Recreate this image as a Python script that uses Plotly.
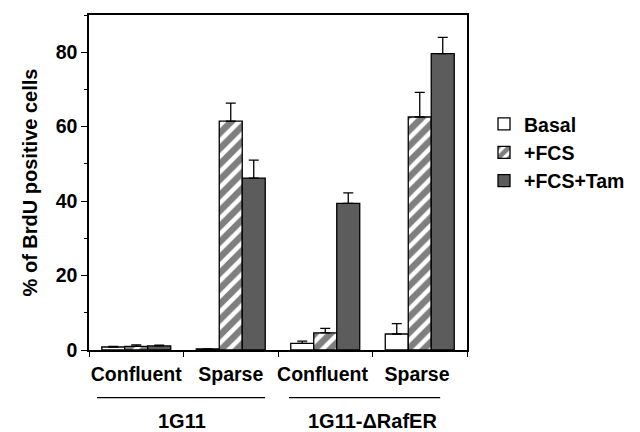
import plotly.graph_objects as go

categories = ["Confluent", "Sparse", "Confluent ", "Sparse "]
series_names = ["Basal", "+FCS", "+FCS+Tam"]
basal = [0.8, 0.3, 1.8, 4.3]
basal_err = [0.2, 0.0, 0.6, 2.8]
fcs = [1.0, 61.5, 4.6, 62.6]
fcs_err = [0.4, 4.8, 1.2, 6.6]
tam = [1.1, 46.2, 39.4, 79.6]
tam_err = [0.2, 4.8, 2.8, 4.4]
y_ticks = [0, 20, 40, 60, 80]
group_labels = ["1G11", "1G11-\u0394RafER"]

FONT = "Liberation Sans, Arial, Helvetica, sans-serif"

fig = go.Figure()
styles = [
    dict(color="white", pattern=None),
    dict(color="white", pattern=dict(shape="/", fgcolor="black", bgcolor="white", size=11, solidity=0.6)),
    dict(color="#5c5c5c", pattern=None),
]
for name, vals, errs, st in zip(series_names, [basal, fcs, tam], [basal_err, fcs_err, tam_err], styles):
    marker = dict(color=st["color"], line=dict(color="black", width=1.3))
    if st["pattern"]:
        marker["pattern"] = st["pattern"]
    fig.add_trace(go.Bar(
        x=categories, y=vals, name=name, marker=marker,
        error_y=dict(type="data", symmetric=False, array=errs, arrayminus=[0] * len(errs),
                     color="black", thickness=1.3, width=5),
    ))

fig.update_layout(
    width=640, height=432,
    margin=dict(l=81, r=181, t=5, b=90),
    paper_bgcolor="white", plot_bgcolor="white",
    barmode="group", bargap=0.27, bargroupgap=0,
    font=dict(family=FONT, size=18, color="black", weight="bold"),
    legend=dict(x=1.045, y=0.732, xanchor="left", yanchor="top",
                font=dict(family=FONT, size=19.5, color="black", weight="bold"),
                tracegroupgap=0, itemwidth=30),
    xaxis=dict(
        type="category", showline=True, linecolor="black", linewidth=1.5, mirror=True,
        ticks="outside", tickson="boundaries", ticklen=5, tickcolor="black", tickangle=0,
        ticklabelstandoff=6,
        tickfont=dict(family=FONT, size=19.5, color="black", weight="bold"),
        showgrid=False, range=[-0.5, 3.5],
    ),
    yaxis=dict(
        range=[0, 90], tickvals=y_ticks, showline=True, linecolor="black", linewidth=1.5,
        mirror=True, ticks="outside", ticklen=6, tickcolor="black", showgrid=False, zeroline=False,
        minor=dict(ticks="outside", dtick=10, ticklen=3, tickcolor="black"),
        tickfont=dict(family=FONT, size=19.5, color="black", weight="bold"),
        title=dict(text="% of BrdU positive cells", standoff=13,
                   font=dict(family=FONT, size=20, color="black", weight="bold")),
    ),
)

# group underlines
fig.add_shape(type="line", xref="paper", yref="paper", x0=0.021, x1=0.466, y0=-0.142, y1=-0.142,
              line=dict(color="black", width=1.2))
fig.add_shape(type="line", xref="paper", yref="paper", x0=0.529, x1=0.929, y0=-0.142, y1=-0.142,
              line=dict(color="black", width=1.2))
for lab, xp in zip(group_labels, [0.246, 0.749]):
    fig.add_annotation(text=lab, xref="paper", yref="paper", x=xp, y=-0.212, showarrow=False,
                       xanchor="center", yanchor="middle",
                       font=dict(family=FONT, size=20, color="black", weight="bold"))

fig.write_html("out.html")
